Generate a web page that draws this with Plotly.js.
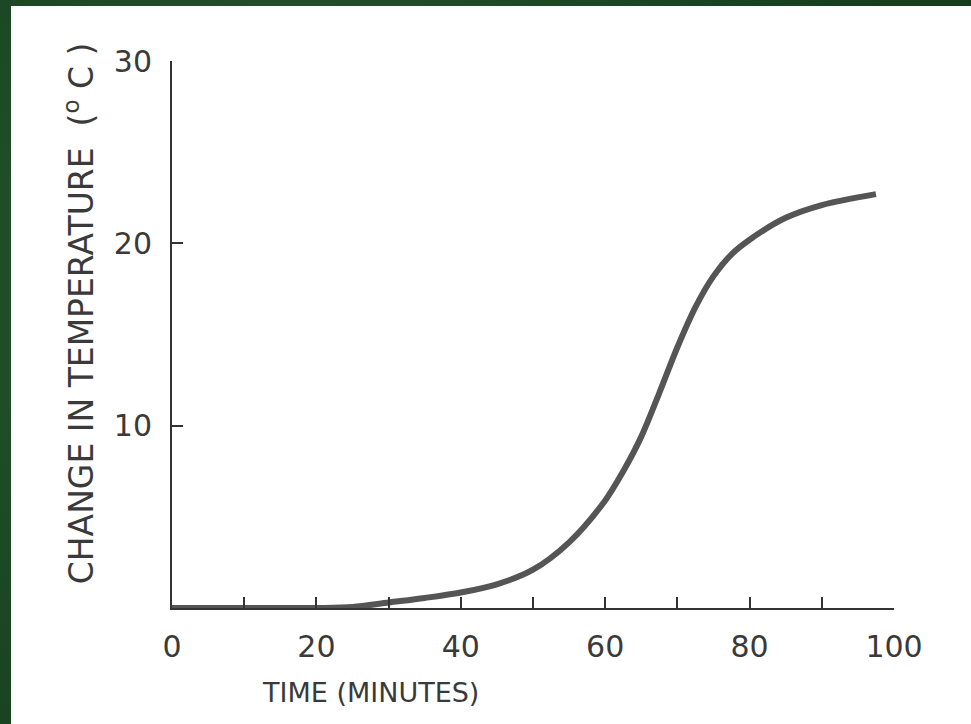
<!DOCTYPE html>
<html>
<head>
<meta charset="utf-8">
<script src="https://cdn.plot.ly/plotly-3.0.1.min.js"></script>
<style>
  html, body { margin: 0; padding: 0; width: 971px; height: 724px; overflow: hidden;
    background: radial-gradient(circle at 30% 40%, #2a5a30 0%, #1a4422 60%, #143a1c 100%); }
  #chart { position: absolute; left: 11px; top: 6px; width: 960px; height: 718px; }
</style>
</head>
<body>
<div id="chart"></div>
<script>
// Data
const timeMinutes = [0, 10, 20, 25, 30, 35, 40, 45, 50, 55, 60, 62.5, 65, 67.5, 70, 72.5, 75, 77.5, 80, 85, 90, 97.5];
const tempChange  = [0, 0, 0, 0.05, 0.3, 0.55, 0.85, 1.3, 2.1, 3.6, 5.9, 7.5, 9.4, 11.8, 14.3, 16.5, 18.2, 19.4, 20.2, 21.4, 22.1, 22.7];
const xTickVals = [0, 20, 40, 60, 80, 100];
const xTickText = ['0', '20', '40', '60', '80', '100'];
const yTickVals = [10, 20, 30];
const yTickText = ['10', '20', '30'];
const xTitle = 'TIME (MINUTES)';
const yTitle = 'CHANGE IN TEMPERATURE  (<sup>o</sup> C )';

const labelFont = { family: 'DejaVu Sans, sans-serif', size: 30, color: '#3a3a3a' };

const trace = {
  x: timeMinutes, y: tempChange, type: 'scatter', mode: 'lines',
  line: { color: '#555555', width: 6, shape: 'spline', smoothing: 0.9 },
  cliponaxis: false, hoverinfo: 'skip'
};

const layout = {
  width: 960, height: 718,
  margin: { l: 161, r: 77, t: 55, b: 116 },
  paper_bgcolor: '#ffffff', plot_bgcolor: '#ffffff',
  showlegend: false,
  xaxis: {
    range: [0, 100], showgrid: false, zeroline: false,
    showline: true, linecolor: '#333333', linewidth: 2,
    ticks: 'inside', ticklen: 11, tickwidth: 2, tickcolor: '#333333',
    tickmode: 'array', tickvals: xTickVals, ticktext: xTickText,
    minor: { ticks: 'inside', ticklen: 11, tickwidth: 2, tickcolor: '#333333', dtick: 10, showgrid: false },
    tickfont: labelFont, ticklabelstandoff: 11
  },
  yaxis: {
    range: [0, 30], showgrid: false, zeroline: false,
    showline: true, linecolor: '#333333', linewidth: 2,
    ticks: 'inside', ticklen: 11, tickwidth: 2, tickcolor: '#333333',
    tickmode: 'array', tickvals: yTickVals, ticktext: yTickText,
    tickfont: labelFont, ticklabelstandoff: 12
  },
  annotations: [
    { text: xTitle, xref: 'paper', yref: 'paper', x: 0.122, y: -0.154, xanchor: 'left', yanchor: 'middle',
      showarrow: false, font: { family: 'DejaVu Sans, sans-serif', size: 27, color: '#3a3a3a' } },
    { text: yTitle, xref: 'paper', yref: 'paper', x: -0.128, y: 0.538, xanchor: 'center', yanchor: 'middle',
      textangle: -90, showarrow: false, font: { family: 'DejaVu Sans, sans-serif', size: 33, color: '#3a3a3a' } }
  ]
};

Plotly.newPlot('chart', [trace], layout, { displayModeBar: false, staticPlot: true });
</script>
</body>
</html>
